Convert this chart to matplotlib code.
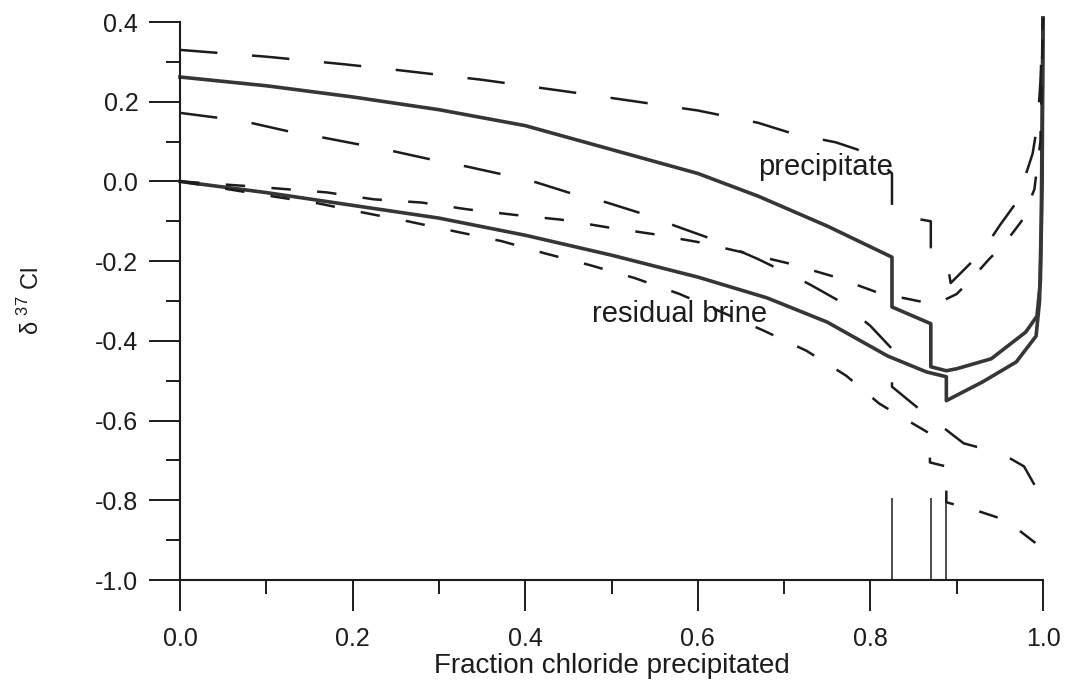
"""
Chlorine isotope fractionation during evaporite precipitation.
delta-37Cl of precipitate and residual brine vs. fraction chloride precipitated.
"""

import matplotlib
matplotlib.use('Agg')
import matplotlib.pyplot as plt
from matplotlib.ticker import MultipleLocator, FormatStrFormatter

# ─── Data ──────────────────────────────────────────────────────────────────────

# precipitate, main model (solid)
prec_x = [0.0, 0.1, 0.2, 0.3, 0.4, 0.5, 0.6, 0.67, 0.75, 0.825, 0.825, 0.870,
          0.870, 0.888, 0.90, 0.94, 0.98, 0.993, 0.997, 0.999, 1.0]
prec_y = [0.262, 0.24, 0.212, 0.18, 0.14, 0.08, 0.02, -0.037, -0.112, -0.19,
          -0.315, -0.357, -0.465, -0.475, -0.47, -0.445, -0.378, -0.338,
          -0.25, 0.0, 0.41]

# residual brine, main model (solid)
brine_x = [0.0, 0.1, 0.2, 0.3, 0.4, 0.5, 0.6, 0.68, 0.75, 0.82, 0.865, 0.888,
           0.888, 0.93, 0.969, 0.992, 0.996, 0.998, 1.0]
brine_y = [0.0, -0.028, -0.06, -0.092, -0.135, -0.185, -0.24, -0.292, -0.353,
           -0.438, -0.478, -0.49, -0.55, -0.503, -0.453, -0.388, -0.3, -0.1,
           0.41]

# precipitate, upper bound (long dashes)
prec_hi_x = [0.0, 0.1, 0.19, 0.25, 0.35, 0.45, 0.53, 0.6, 0.67, 0.71, 0.76,
             0.785, 0.81, 0.825, 0.825, 0.857, 0.870, 0.870, 0.888, 0.893,
             0.93, 0.95, 0.97, 0.988, 0.994, 0.997, 1.0]
prec_hi_y = [0.33, 0.313, 0.294, 0.28, 0.255, 0.225, 0.2, 0.178, 0.147, 0.12,
             0.098, 0.08, 0.05, 0.02, -0.07, -0.095, -0.1, -0.165, -0.19,
             -0.255, -0.175, -0.11, -0.05, 0.07, 0.15, 0.25, 0.41]

# precipitate, lower bound (long dashes)
prec_lo_x = [0.0, 0.043, 0.081, 0.127, 0.166, 0.208, 0.249, 0.291, 0.332,
             0.374, 0.413, 0.457, 0.494, 0.538, 0.575, 0.617, 0.67, 0.729,
             0.766, 0.8, 0.825, 0.825, 0.856, 0.908, 0.93, 0.958, 0.978,
             0.995, 0.998]
prec_lo_y = [0.172, 0.16, 0.1475, 0.125, 0.11, 0.0925, 0.075, 0.055, 0.0375,
             0.0175, -0.0025, -0.0325, -0.0525, -0.0825, -0.1125, -0.145,
             -0.195, -0.2575, -0.3025, -0.3625, -0.42, -0.515, -0.57, -0.657,
             -0.67, -0.69, -0.715, -0.78, -0.815]

# residual brine, upper bound (short dashes)
brine_hi_x = [0.0, 0.08, 0.17, 0.225, 0.28, 0.333, 0.388, 0.442, 0.495, 0.548,
              0.6, 0.65, 0.706, 0.758, 0.81, 0.862, 0.876, 0.9, 0.917, 0.9375,
              0.955, 0.975, 0.99, 0.997, 1.0]
brine_hi_y = [0.0, -0.012, -0.0275, -0.045, -0.053, -0.07, -0.084, -0.096,
              -0.115, -0.132, -0.152, -0.177, -0.206, -0.239, -0.28, -0.303,
              -0.3075, -0.2825, -0.245, -0.195, -0.1575, -0.1, -0.02, 0.1,
              0.41]

# residual brine, lower bound (short dashes)
brine_lo_x = [0.0, 0.1, 0.16, 0.212, 0.264, 0.318, 0.373, 0.422, 0.475, 0.527,
              0.579, 0.63, 0.677, 0.726, 0.772, 0.81, 0.833, 0.859, 0.869,
              0.869, 0.882, 0.888, 0.888, 0.922, 0.957, 0.99, 1.0]
brine_lo_y = [0.0, -0.035, -0.055, -0.078, -0.1, -0.125, -0.15, -0.18, -0.21,
              -0.2425, -0.2825, -0.33, -0.375, -0.425, -0.4875, -0.557, -0.587,
              -0.62, -0.633, -0.705, -0.712, -0.715, -0.805, -0.825, -0.85,
              -0.905, -0.93]

# mineral boundaries (thin markers at the bottom)
boundaries = [0.825, 0.870, 0.888]
marker_top = -0.795

x_ticks = [0.0, 0.2, 0.4, 0.6, 0.8, 1.0]
y_ticks = [-1.0, -0.8, -0.6, -0.4, -0.2, 0.0, 0.2, 0.4]

# ─── Style ─────────────────────────────────────────────────────────────────────

INK = '#1c1c1c'
SOLID = '#363636'
LONG_DASH = (27, 25)
SHORT_DASH = (14, 19)

plt.rcParams['font.family'] = ['Liberation Sans', 'DejaVu Sans']
plt.rcParams['mathtext.fontset'] = 'custom'
plt.rcParams['mathtext.rm'] = 'Liberation Sans'
plt.rcParams['axes.unicode_minus'] = False
plt.rcParams['lines.scale_dashes'] = False

fig = plt.figure(figsize=(10.7, 6.86), dpi=100)
ax = fig.add_axes([180 / 1070, 106 / 686, 863 / 1070, 558 / 686])

# ── curves ──
ax.plot(prec_x, prec_y, color=SOLID, lw=2.6, clip_on=False)
ax.plot(brine_x, brine_y, color=SOLID, lw=2.6, clip_on=False)
for xs, ys, dash in [(prec_hi_x, prec_hi_y, LONG_DASH),
                     (prec_lo_x, prec_lo_y, LONG_DASH),
                     (brine_hi_x, brine_hi_y, SHORT_DASH),
                     (brine_lo_x, brine_lo_y, SHORT_DASH)]:
    ax.plot(xs, ys, color=INK, lw=1.8, dashes=dash, clip_on=False)

ax.vlines(boundaries, -1.0, marker_top, color=INK, lw=1.1)

ax.text(0.67, 0.017, 'precipitate', fontsize=21, color=INK, va='baseline')
ax.text(0.477, -0.3525, 'residual brine', fontsize=21, color=INK,
        va='baseline')

# ── axes ──
ax.set_xlim(0, 1.0)
ax.set_ylim(-1.0, 0.4)
ax.set_xticks(x_ticks)
ax.set_yticks(y_ticks)
ax.xaxis.set_minor_locator(MultipleLocator(0.1))
ax.yaxis.set_minor_locator(MultipleLocator(0.1))
ax.xaxis.set_major_formatter(FormatStrFormatter('%.1f'))
ax.yaxis.set_major_formatter(FormatStrFormatter('%.1f'))

for side in ['top', 'right']:
    ax.spines[side].set_visible(False)
for side in ['left', 'bottom']:
    ax.spines[side].set_linewidth(1.5)
    ax.spines[side].set_color(INK)

ax.tick_params(which='major', direction='out', length=22, width=1.4,
               color=INK, labelcolor=INK, labelsize=18)
ax.tick_params(axis='x', which='major', pad=12)
ax.tick_params(axis='y', which='major', pad=8)
ax.tick_params(which='minor', direction='out', length=10, width=1.4, color=INK)

ax.set_xlabel('Fraction chloride precipitated', fontsize=20, color=INK,
              labelpad=1)
ax.set_ylabel('δ $^{37}$ Cl', fontsize=17, color=INK)
ax.yaxis.set_label_coords(-0.158, 0.5)

plt.savefig('out.png', dpi=100, facecolor='white')
plt.close()
